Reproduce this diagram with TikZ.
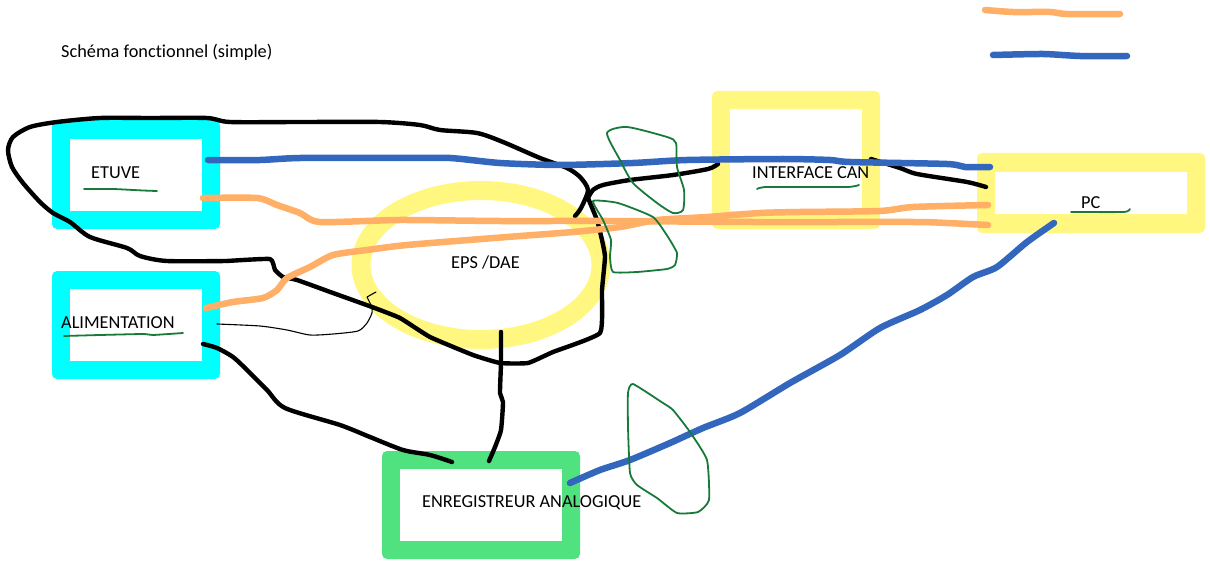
\documentclass[tikz,border=0pt]{standalone}
\usepackage{fontspec}
\setmainfont[Ligatures=NoCommon]{Carlito}
\definecolor{boxcyan}{HTML}{00FFFF}
\definecolor{boxyellow}{HTML}{FFF780}
\definecolor{boxgreen}{HTML}{50E27F}
\definecolor{wireorange}{HTML}{FFAF66}
\definecolor{wireblue}{HTML}{3367BD}
\definecolor{markgreen}{HTML}{187A3A}
\tikzset{
  frame/.style={rounded corners=5pt,inner sep=0pt,outer sep=0pt},
  hole/.style={fill=white,inner sep=0pt,outer sep=0pt},
  wire/.style={line cap=round,line join=round},
  blackwire/.style={wire,draw=black,line width=4.4pt},
  thinwire/.style={wire,draw=black,line width=1.1pt},
  orangewire/.style={wire,draw=wireorange,line width=6.5pt},
  bluewire/.style={wire,draw=wireblue,line width=6.5pt},
  greenmark/.style={wire,draw=markgreen,line width=1.8pt},
  label/.style={font=\fontsize{18.3}{22}\selectfont,text=black,inner sep=0pt,anchor=west},
}
\begin{document}
\begin{tikzpicture}[x=1pt,y=-1pt]
\useasboundingbox (0,0) rectangle (1210,564);
% boxes
\node[frame,fill=boxcyan,minimum width=168pt,minimum height=109pt] (etuve) at (136,174.5) {};
\node[hole,minimum width=132pt,minimum height=72pt] (etuvein) at (136,175) {};
\node[frame,fill=boxcyan,minimum width=168pt,minimum height=108pt] (alim) at (136,325) {};
\node[hole,minimum width=132pt,minimum height=72pt] (aliminner) at (136,325) {};
\node[frame,fill=boxyellow,minimum width=168pt,minimum height=138pt] (can) at (796,160) {};
\node[hole,minimum width=132pt,minimum height=102pt] (canin) at (796,160) {};
\node[frame,fill=boxyellow,minimum width=228pt,minimum height=80pt] (pc) at (1091,193) {};
\node[hole,minimum width=192pt,minimum height=42pt] (pcin) at (1091,193) {};
\node[frame,fill=boxgreen,minimum width=198pt,minimum height=108pt] (enr) at (481,505) {};
\node[hole,minimum width=162pt,minimum height=72pt] (enrin) at (481,505) {};
\draw[boxyellow,line width=19pt] (481,265) ellipse [x radius=120pt,y radius=74.5pt];
\coordinate (eps) at (481,265);
% end points
\coordinate (etuveB) at (208,160);
\coordinate (pcB) at (990,167);
\coordinate (etuveO) at (203,198);
\coordinate (pcO1) at (988,225);
\coordinate (alimO) at (206,308);
\coordinate (pcO2) at (988,205);
\coordinate (enrB) at (570,483);
\coordinate (pcB2) at (1054,223);
\coordinate (loopA) at (575,216);
\coordinate (canL) at (718,164);
\coordinate (canR) at (871,159);
\coordinate (pcK) at (986,187);
\coordinate (epsK) at (501,332);
\coordinate (enrK1) at (489,461);
\coordinate (enrK2) at (452,462);
\coordinate (alimK) at (203,344);
\coordinate (alimT) at (217,324);
\coordinate (epsT) at (376,292);
\coordinate (junction) at (588,198);
% black wires
\draw[blackwire] plot[smooth,tension=0.45] coordinates {(loopA) (581,208) (588,190) (580,177) (567,168) (540,158) (503,142) (477,133) (440,130) (420,125) (380,122) (300,122) (230,122) (207,118) (150,118) (100,118) (57,122) (30,127) (13,137) (8,150) (12,167) (23,183) (40,202) (53,213) (70,222) (90,237) (127,248) (140,256) (167,261) (227,261)};
\draw[blackwire] plot[smooth,tension=0.25] coordinates {(227,261) (270,259) (275,270) (283,277) (297,280) (333,293) (372,307) (400,318) (430,337) (473,355) (500,363) (528,363) (553,352) (600,333) (602,290) (605,257) (602,240) (597,220) (junction)};
\draw[blackwire] plot[smooth,tension=0.45] coordinates {(junction) (593,190) (603,185) (630,180) (673,175) (708,169) (canL)};
\draw[blackwire] plot[smooth,tension=0.4] coordinates {(canR) (900,168) (917,174) (967,182) (pcK)};
\draw[blackwire] plot[smooth,tension=0.3] coordinates {(epsK) (501,363) (500,393) (503,402) (501,430) (495,447) (enrK1)};
\draw[blackwire] plot[smooth,tension=0.45] coordinates {(alimK) (217,348) (233,357) (247,370) (267,390) (285,408) (340,425) (370,437) (403,450) (430,455) (enrK2)};
\draw[thinwire] plot[smooth,tension=0.4] coordinates {(alimT) (260,326) (287,330) (310,335) (333,334) (358,331) (367,323) (372,313) (372,307)};
\draw[thinwire] (372,307) -- (367,297) -- (epsT);
% orange wires
\draw[orangewire] plot[smooth,tension=0.4] coordinates {(etuveO) (257,198) (277,205) (300,213) (320,222) (400,220) (500,221) (607,221) (753,222) (913,222) (947,223) (pcO1)};
\draw[orangewire] plot[smooth,tension=0.4] coordinates {(alimO) (233,302) (263,298) (277,290) (287,278) (310,267) (333,255) (367,250) (407,245) (507,237) (573,232) (620,227) (657,220) (707,217) (760,213) (800,212) (880,211) (913,207) (pcO2)};
\coordinate (legO) at (985,10);
\coordinate (legOe) at (1120,14);
\draw[orangewire] plot[smooth,tension=0.4] coordinates {(legO) (1013,12) (1050,12) (1067,14) (legOe)};
% blue wires
\draw[bluewire] plot[smooth,tension=0.4] coordinates {(etuveB) (260,160) (300,158) (400,158) (450,158) (500,163) (560,165) (633,163) (687,160) (783,159) (830,160) (850,162) (947,164) (965,167) (pcB)};
\draw[bluewire] plot[smooth,tension=0.4] coordinates {(enrB) (600,470) (630,460) (670,443) (703,428) (740,413) (790,383) (840,355) (880,328) (920,310) (947,295) (973,277) (997,267) (1027,242) (pcB2)};
\coordinate (legB) at (993,55);
\coordinate (legBe) at (1127,56);
\draw[bluewire] plot[smooth,tension=0.4] coordinates {(legB) (1043,54) (1080,56) (legBe)};
% green marks
\draw[greenmark] plot[smooth cycle,tension=0.4] coordinates {(607,133) (627,127) (667,137) (676,143) (677,167) (684,190) (683,210) (673,213) (657,203) (633,183) (620,160)};
\draw[greenmark] plot[smooth cycle,tension=0.3] coordinates {(593,201) (618,203) (653,217) (668,237) (677,253) (675,265) (667,269) (637,272) (613,272) (610,257) (611,240) (603,220)};
\draw[greenmark] plot[smooth cycle,tension=0.3] coordinates {(633,384) (663,403) (673,410) (690,432) (707,460) (709,500) (698,512) (677,513) (657,498) (637,485) (630,473) (628,427) (628,393)};
\draw[greenmark] plot[smooth,tension=0.3] coordinates {(84,189) (113,189) (143,190.5) (157,191)};
\draw[greenmark] plot[smooth,tension=0.3] coordinates {(64,336) (100,335) (143,334) (153,335) (183,333)};
\draw[greenmark] plot[smooth,tension=0.3] coordinates {(757,189) (767,187) (847,187) (859,185)};
\draw[greenmark] plot[smooth,tension=0.3] coordinates {(1071,212) (1124,212) (1130,209)};
% texts
\node[label] (title) at (61,52.5) {Schéma fonctionnel (simple)};
\node[label] (tetuve) at (91,173) {ETUVE};
\node[label] (talim) at (61,323) {ALIMENTATION};
\node[label] (teps) at (451,263) {EPS /DAE};
\node[label] (tcan) at (752,173) {INTERFACE CAN};
\node[label] (tpc) at (1081,203) {PC};
\node[label] (tenr) at (422,503) {ENREGISTREUR ANALOGIQUE};
\end{tikzpicture}
\end{document}
